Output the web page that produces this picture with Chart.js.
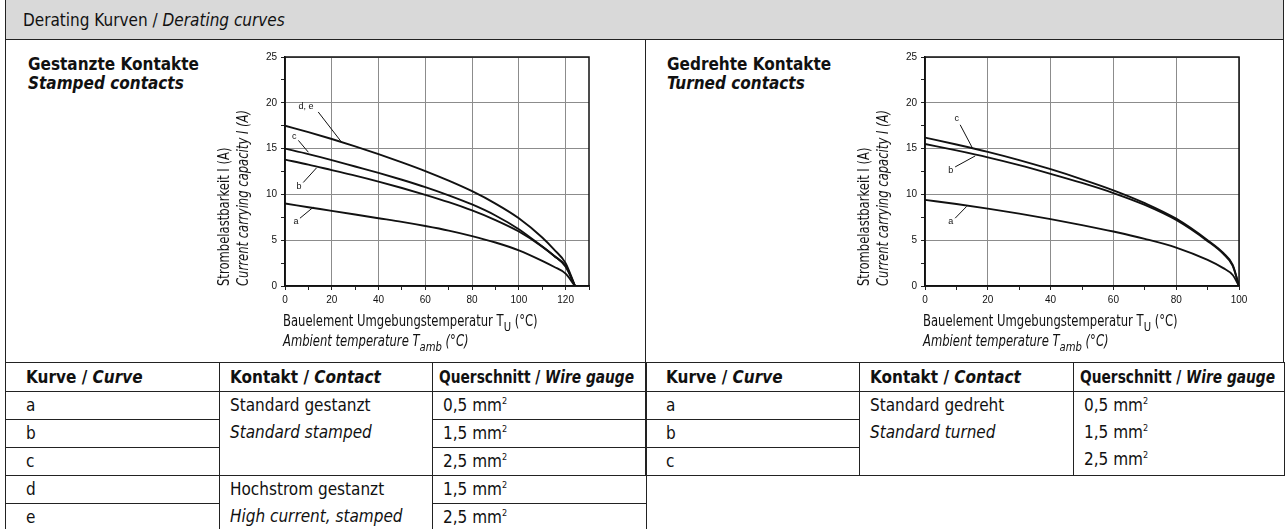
<!DOCTYPE html>
<html lang="de">
<head>
<meta charset="utf-8">
<title>Derating Kurven</title>
<script src="https://cdn.jsdelivr.net/npm/chart.js@4.4.1/dist/chart.umd.min.js"></script>
<style>
  html, body { margin: 0; background: #fff; }
  body { font-family: "Liberation Sans Narrow", "DejaVu Sans Condensed", sans-serif; color: #111; }
  #sheet { position: relative; width: 1285px; height: 529px; overflow: hidden; }
  .box { position: absolute; box-sizing: border-box; }
  .head { left: 5px; top: 0; width: 1279px; height: 40px; background: #d9d9d9;
          border: solid #222; border-width: 0 1.5px 1.5px 1.5px;
          font-size: 17px; line-height: 41px; padding-left: 17px; }
  .panelL { left: 5px; top: 39px; width: 641px; height: 324px; border-left: 1.5px solid #222; border-right: 1.5px solid #222; }
  .panelR { left: 645px; top: 39px; width: 639px; height: 324px; border-right: 1.5px solid #222; }
  .ptitle { font-weight: bold; font-size: 17px; line-height: 19px; }
  canvas { position: absolute; }
  table { position: absolute; border-collapse: collapse; table-layout: fixed; font-size: 17px; }
  td, th { border: 1.5px solid #222; padding: 0 0 0 10px; text-align: left; white-space: nowrap; }
  th { height: 28px; font-weight: bold; }
  td { height: 27px; line-height: 27px; }
  td.first, th.first { padding-left: 20px; }
  td.stack { vertical-align: top; line-height: 27px; }
  .squeeze { display: inline-block; transform: scaleX(0.9); transform-origin: 0 50%; }
  sup { font-size: 9px; vertical-align: 7px; line-height: 0; }
</style>
</head>
<body>
<div id="sheet">
  <div class="box head">Derating Kurven / <i>Derating curves</i></div>
  <div class="box panelL"></div>
  <div class="box panelR"></div>
  <div class="box ptitle" style="left:28px;top:55px">Gestanzte Kontakte<br><i>Stamped contacts</i></div>
  <div class="box ptitle" style="left:667px;top:55px">Gedrehte Kontakte<br><i>Turned contacts</i></div>
  <canvas id="stamped" width="639" height="322" style="left:6px;top:40px"></canvas>
  <canvas id="turned" width="637" height="322" style="left:646px;top:40px"></canvas>

  <table style="left:5px;top:362px;width:641px">
    <colgroup><col style="width:214px"><col style="width:213px"><col style="width:214px"></colgroup>
    <tr><th class="first">Kurve / <i>Curve</i></th><th>Kontakt / <i>Contact</i></th><th style="padding-left:6px"><span class="squeeze">Querschnitt / <i>Wire gauge</i></span></th></tr>
    <tr><td class="first">a</td><td class="stack" rowspan="3">Standard gestanzt<br><i>Standard stamped</i></td><td>0,5 mm<sup>2</sup></td></tr>
    <tr><td class="first">b</td><td>1,5 mm<sup>2</sup></td></tr>
    <tr><td class="first">c</td><td>2,5 mm<sup>2</sup></td></tr>
    <tr><td class="first">d</td><td class="stack" rowspan="2">Hochstrom gestanzt<br><i>High current, stamped</i></td><td>1,5 mm<sup>2</sup></td></tr>
    <tr><td class="first">e</td><td>2,5 mm<sup>2</sup></td></tr>
  </table>

  <table style="left:645px;top:362px;width:639px">
    <colgroup><col style="width:214px"><col style="width:214px"><col style="width:211px"></colgroup>
    <tr><th class="first">Kurve / <i>Curve</i></th><th>Kontakt / <i>Contact</i></th><th style="padding-left:6px"><span class="squeeze">Querschnitt / <i>Wire gauge</i></span></th></tr>
    <tr><td class="first">a</td><td class="stack" rowspan="3">Standard gedreht<br><i>Standard turned</i></td><td class="stack" rowspan="3">0,5 mm<sup>2</sup><br>1,5 mm<sup>2</sup><br>2,5 mm<sup>2</sup></td></tr>
    <tr><td class="first">b</td></tr>
    <tr><td class="first">c</td></tr>
  </table>
</div>

<script>
// Gestanzte Kontakte: Strom (A) über Umgebungstemperatur (°C)
const stampedTemp = [0, 10, 20, 30, 40, 50, 60, 70, 80, 90, 100, 110, 115, 120, 124];
const stampedA  = [9.0, 8.6, 8.2, 7.8, 7.4, 7.0, 6.55, 6.05, 5.45, 4.75, 3.9, 2.75, 2.1, 1.35, 0];
const stampedB  = [13.8, 13.25, 12.65, 12.05, 11.4, 10.7, 9.95, 9.15, 8.25, 7.2, 5.95, 4.3, 3.3, 2.1, 0];
const stampedC  = [15.0, 14.4, 13.75, 13.05, 12.35, 11.6, 10.8, 9.9, 8.9, 7.7, 6.2, 4.3, 3.3, 2.2, 0];
const stampedDE = [17.5, 16.8, 16.05, 15.25, 14.4, 13.5, 12.55, 11.5, 10.35, 9.0, 7.4, 5.3, 4.0, 2.5, 0];

// Gedrehte Kontakte
const turnedTemp = [0, 10, 20, 30, 40, 50, 60, 70, 80, 90, 95, 98, 100];
const turnedA = [9.4, 8.95, 8.45, 7.9, 7.3, 6.65, 5.95, 5.15, 4.2, 2.85, 1.95, 1.2, 0];
const turnedB = [15.5, 14.8, 14.05, 13.2, 12.25, 11.25, 10.15, 8.85, 7.2, 4.9, 3.5, 2.2, 0];
const turnedC = [16.2, 15.45, 14.65, 13.75, 12.75, 11.65, 10.45, 9.05, 7.35, 5.0, 3.6, 2.3, 0];

// Kurvenbeschriftung: Text, Textpunkt, Hinweislinie (Datenkoordinaten)
const stampedNames = ['a', 'b', 'c', 'd, e'];
const stampedNameAt = [[4.7, 7.0], [6.0, 10.9], [4.0, 16.3], [9.0, 19.6]];
const stampedLeadFrom = [[6.4, 7.4], [7.8, 11.3], [5.7, 15.9], [14.2, 19.0]];
const stampedLeadTo = [[12.1, 8.6], [13.5, 12.9], [10.0, 14.6], [24.2, 15.7]];

const turnedNames = ['a', 'b', 'c'];
const turnedNameAt = [[8.2, 7.0], [8.2, 12.6], [10.1, 18.3]];
const turnedLeadFrom = [[9.6, 7.4], [9.6, 13.0], [11.2, 17.6]];
const turnedLeadTo = [[13.3, 8.7], [16.0, 14.2], [15.2, 15.0]];

const yTitle = ['Strombelastbarkeit I (A)', 'Current carrying capacity I (A)'];
const xTitle1 = [['Bauelement Umgebungstemperatur T'], ['U', true], [' (°C)']];
const xTitle2 = [['Ambient temperature T'], ['amb', true], [' (°C)']];

const NARROW = '"Liberation Sans Narrow", "DejaVu Sans Condensed", sans-serif';
const TICKFONT = { family: '"Liberation Sans", Arial, sans-serif', size: 10 };
const SQUEEZE = 0.86;

function series(xs, ys) { return xs.map((x, i) => ({ x, y: ys[i] })); }

// Textzeile mit Tiefstellung, horizontal gestaucht
function runs(ctx, x, y, parts, style) {
  ctx.save();
  ctx.translate(x, y);
  ctx.scale(SQUEEZE, 1);
  let cx = 0;
  parts.forEach(([t, sub]) => {
    ctx.font = sub ? `${style} 13px ${NARROW}` : `${style} 15px ${NARROW}`;
    ctx.fillText(t, cx, sub ? 5 : 0);
    cx += ctx.measureText(t).width;
  });
  ctx.restore();
}

// Rahmen um die Plotfläche
const frame = {
  id: 'frame',
  afterDatasetsDraw(chart) {
    const { ctx, chartArea: a } = chart;
    ctx.save();
    ctx.strokeStyle = '#111';
    ctx.lineWidth = 1.5;
    ctx.strokeRect(a.left, a.top, a.right - a.left, a.bottom - a.top);
    ctx.restore();
  }
};

const curveNotes = {
  id: 'curveNotes',
  afterDatasetsDraw(chart, args, o) {
    const { ctx, scales: { x, y } } = chart;
    const px = p => [x.getPixelForValue(p[0]), y.getPixelForValue(p[1])];
    ctx.save();
    ctx.font = '9px "Liberation Sans", Arial, sans-serif';
    ctx.fillStyle = ctx.strokeStyle = '#111';
    ctx.lineWidth = 1;
    ctx.textAlign = 'center';
    ctx.textBaseline = 'middle';
    o.names.forEach((n, i) => {
      ctx.fillText(n, ...px(o.at[i]));
      ctx.beginPath();
      ctx.moveTo(...px(o.from[i]));
      ctx.lineTo(...px(o.to[i]));
      ctx.stroke();
    });
    ctx.restore();
  }
};

const axisTitles = {
  id: 'axisTitles',
  afterDraw(chart) {
    const { ctx, chartArea: a } = chart;
    ctx.save();
    ctx.fillStyle = '#111';
    ctx.textAlign = 'left';
    ctx.textBaseline = 'alphabetic';
    runs(ctx, a.left - 2, a.bottom + 40, xTitle1, 'normal');
    runs(ctx, a.left - 2, a.bottom + 60, xTitle2, 'italic');
    ctx.translate(a.left - 56, a.bottom);
    ctx.rotate(-Math.PI / 2);
    ctx.scale(SQUEEZE, 1);
    ctx.font = `15px ${NARROW}`;
    ctx.fillText(yTitle[0], 0, 0);
    ctx.font = `italic 15px ${NARROW}`;
    ctx.fillText(yTitle[1], 0, 19);
    ctx.restore();
  }
};

function makeChart(id, xMax, sets, notes, pad) {
  return new Chart(document.getElementById(id), {
    type: 'line',
    data: {
      datasets: sets.map(s => ({
        data: s,
        borderColor: '#111',
        borderWidth: 1.9,
        pointRadius: 0,
        cubicInterpolationMode: 'monotone',
        fill: false
      }))
    },
    options: {
      responsive: false,
      animation: false,
      events: [],
      layout: { padding: pad },
      plugins: { legend: { display: false }, tooltip: { enabled: false }, curveNotes: notes },
      scales: {
        x: {
          type: 'linear', min: 0, max: xMax,
          afterFit: s => { s.height = 20; },
          ticks: { stepSize: 10, autoSkip: false, maxRotation: 0, padding: 4, color: '#111', font: TICKFONT,
                   callback: v => (v % 20 === 0 ? v : '') },
          grid: { color: c => (c.tick && c.tick.value % 20 === 0 ? '#8c8c8c' : 'rgba(0,0,0,0)'),
                  tickColor: '#222', tickLength: 4, lineWidth: 1 },
          border: { color: '#111', width: 1.5 }
        },
        y: {
          min: 0, max: 25,
          afterFit: s => { s.width = 30; },
          ticks: { stepSize: 2.5, autoSkip: false, padding: 4, color: '#111', font: TICKFONT,
                   callback: v => (v % 5 === 0 ? v : '') },
          grid: { color: c => (c.tick && c.tick.value % 5 === 0 ? '#8c8c8c' : 'rgba(0,0,0,0)'),
                  tickColor: '#222', tickLength: 4, lineWidth: 1 },
          border: { color: '#111', width: 1.5 }
        }
      }
    },
    plugins: [frame, curveNotes, axisTitles]
  });
}

makeChart('stamped', 130,
  [series(stampedTemp, stampedA), series(stampedTemp, stampedB), series(stampedTemp, stampedC), series(stampedTemp, stampedDE)],
  { names: stampedNames, at: stampedNameAt, from: stampedLeadFrom, to: stampedLeadTo },
  { left: 249, right: 56, top: 17, bottom: 56 });

makeChart('turned', 100,
  [series(turnedTemp, turnedA), series(turnedTemp, turnedB), series(turnedTemp, turnedC)],
  { names: turnedNames, at: turnedNameAt, from: turnedLeadFrom, to: turnedLeadTo },
  { left: 249, right: 44, top: 17, bottom: 56 });
</script>
</body>
</html>
